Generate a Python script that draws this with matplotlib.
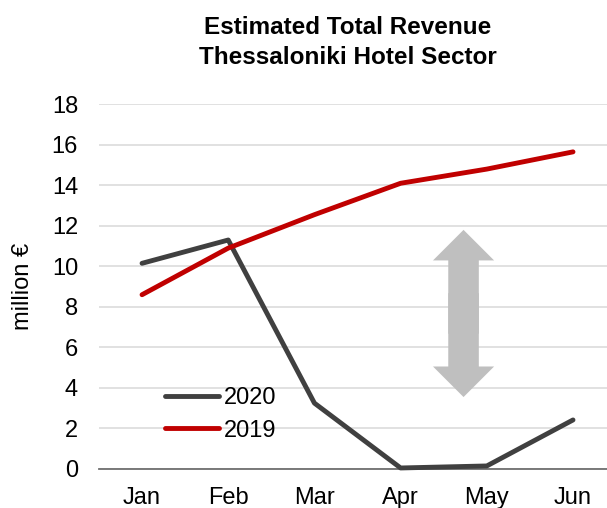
import matplotlib
matplotlib.use("Agg")
import matplotlib.pyplot as plt
from matplotlib.patches import FancyArrowPatch

plt.rcParams['font.family'] = ['Liberation Sans', 'DejaVu Sans']

months = ['Jan', 'Feb', 'Mar', 'Apr', 'May', 'Jun']
rev_2020 = [10.15, 11.3, 3.25, 0.05, 0.15, 2.42]
rev_2019 = [8.6, 10.9, 12.55, 14.1, 14.8, 15.65]
yticks = [0, 2, 4, 6, 8, 10, 12, 14, 16, 18]

fig = plt.figure(figsize=(6.07, 5.08), dpi=100)
ax = fig.add_axes([0.163, 0.0768, 0.852, 0.718])

x = list(range(len(months)))
ax.plot(x, rev_2020, color='#404040', lw=3.5, solid_capstyle='round',
        solid_joinstyle='round', label='2020', zorder=3, clip_on=False)
ax.plot(x, rev_2019, color='#C00000', lw=3.5, solid_capstyle='round',
        solid_joinstyle='round', label='2019', zorder=4, clip_on=False)

# gap arrow between the two years
ax_x, top, bot = 3.73, 11.8, 3.55
mid = (top + bot) / 2
for start, end in ((mid - 1, top), (mid + 1, bot)):
    ax.add_patch(FancyArrowPatch((ax_x, start), (ax_x, end),
                                 arrowstyle='simple,head_length=22,head_width=44,tail_width=22',
                                 mutation_scale=1, color='#BFBFBF', lw=0,
                                 shrinkA=0, shrinkB=0, zorder=2))

ax.set_xlim(-0.5, 5.5)
ax.set_ylim(0, 18)
ax.set_yticks(yticks)
ax.set_xticks(x)
ax.set_xticklabels(months)
ax.tick_params(axis='both', length=0, labelsize=17)
ax.tick_params(axis='y', pad=15)
ax.tick_params(axis='x', pad=13)
ax.grid(axis='y', color='#D9D9D9', lw=1.1)
ax.set_axisbelow(True)
for s in ['top', 'right', 'left']:
    ax.spines[s].set_visible(False)
ax.spines['bottom'].set_color('#707070')
ax.spines['bottom'].set_linewidth(1.3)
ax.set_ylabel('million €', fontsize=17, labelpad=13)

ax.legend(loc='upper left', bbox_to_anchor=(0.105, 0.257), frameon=False,
          fontsize=17, handlelength=2.3, handletextpad=0.2, labelspacing=0.45,
          borderpad=0)

fig.text(0.573, 0.968, 'Estimated Total Revenue\nThessaloniki Hotel Sector',
         ha='center', va='top', fontsize=17.5, fontweight='bold', linespacing=1.38)

fig.savefig('out.png', dpi=100)
